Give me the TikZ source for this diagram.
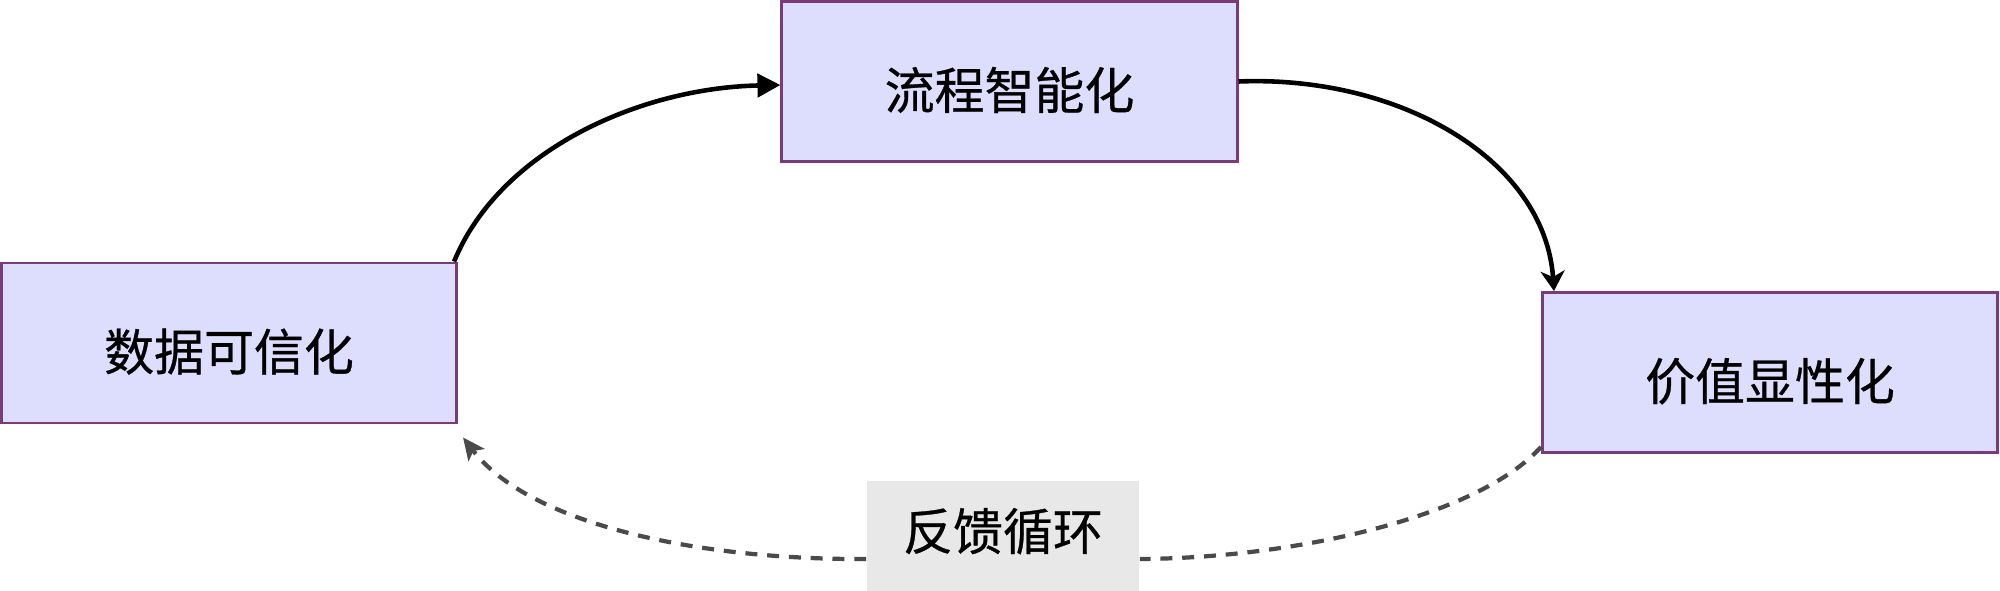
\documentclass[tikz,border=0pt]{standalone}
\usepackage{fontspec}
\newfontfamily\cjk{Noto Sans CJK SC}[FakeBold=0.6]
\usetikzlibrary{arrows.meta,calc}
\definecolor{boxfill}{HTML}{DDDEFD}
\definecolor{boxline}{HTML}{7B3B7B}
\definecolor{lblfill}{HTML}{E8E8E8}
\definecolor{dashcol}{HTML}{4A4A4A}
\begin{document}
\begin{tikzpicture}[x=0.01cm,y=-0.01cm,
  stage/.style={draw=boxline,line width=0.8pt,fill=boxfill,inner sep=0pt,
    minimum width=4.55cm,minimum height=1.6cm,text height=0.55cm,text depth=0cm,
    font=\cjk\fontsize{14.2}{17}\selectfont,text=black},
  loopbox/.style={fill=lblfill,inner sep=0pt,minimum width=2.72cm,minimum height=1.1cm,
    text height=0.28cm,text depth=0cm,
    font=\cjk\fontsize{14.2}{17}\selectfont,text=black},
  flow/.style={line width=1.3pt,black},
  back/.style={line width=1.2pt,dashcol,dash pattern=on 3.4pt off 2.8pt}]
\useasboundingbox (0,0) rectangle (2000,591);
\node[stage] (A) at (229,343) {数据可信化};
\node[stage] (B) at (1009.5,81.5) {流程智能化};
\node[stage] (C) at (1770,372.5) {价值显性化};
\node[loopbox] (L) at (1003,536) {反馈循环};
\draw[flow,-{Triangle[length=0.23cm,width=0.23cm]}]
  ($(A.north east)+(-4,0)$) .. controls (500,150) and (640,88) .. ($(B.west)+(0,3.5)$);
\draw[flow,-{Stealth[length=0.2cm,width=0.24cm,inset=0.06cm]}]
  (B.east) .. controls (1400,75) and (1545,160) .. ($(C.north west)+(13,0)$);
\draw[back] ($(C.south west)+(0,-7)$) .. controls (1480,515) and (1300,558) .. ($(L.east)+(0,23)$);
\draw[back,-{Stealth[length=0.22cm,width=0.2cm,inset=0.05cm]}]
  ($(L.west)+(0,23)$) .. controls (700,560) and (530,525) .. ($(A.south east)+(5,13)$);
\end{tikzpicture}
\end{document}
